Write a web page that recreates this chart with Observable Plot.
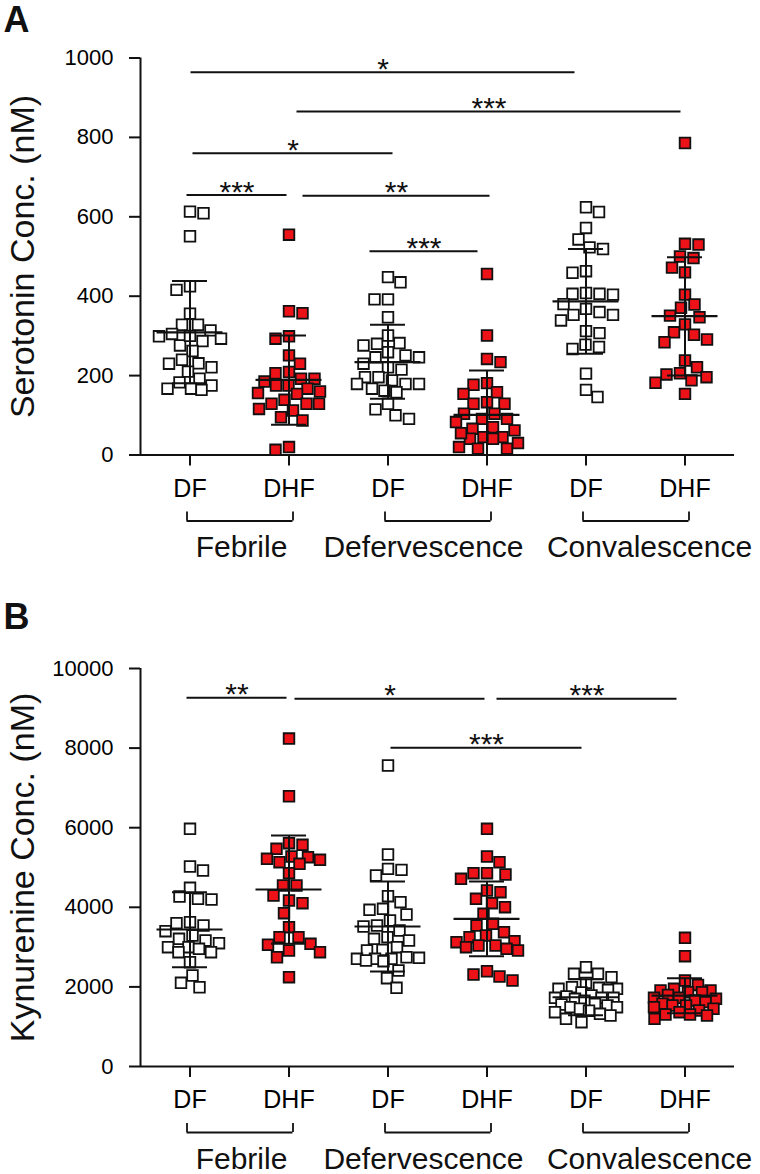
<!DOCTYPE html>
<html><head><meta charset="utf-8">
<script src="https://cdn.jsdelivr.net/npm/d3@7"></script>
<script src="https://cdn.jsdelivr.net/npm/@observablehq/plot@0.6"></script>
<style>
body{margin:0;background:#fff;}
#chart{width:760px;}
#chart svg{display:block;}
</style></head>
<body><div id="chart"></div>
<script>
// ---------- categories / labels ----------
const subLabels = ["DF","DHF","DF","DHF","DF","DHF"];
const groupLabels = ["Febrile","Defervescence","Convalescence"];
const serTicks = [0,200,400,600,800,1000];
const kynTicks = [0,2000,4000,6000,8000,10000];

// ---------- Panel A: serotonin (nM) ----------
const serFebDF  = [613,609,551,425,416,356,328,328,314,305,299,293,287,276,262,240,231,230,221,210,192,183,175,167,167,164,300];
const serFebDHF = [555,362,357,299,293,251,230,209,206,192,192,185,175,175,167,160,156,154,139,129,129,129,116,112,95,87,20,13];
const serDefDF  = [448,435,392,392,347,301,282,280,276,259,251,246,246,230,221,215,196,196,188,179,179,179,167,162,158,129,115,100,91];
const serDefDHF = [456,301,242,234,181,177,158,154,133,129,129,104,104,91,91,83,70,66,62,45,45,41,41,20,16,16,30,55];
const serConDF  = [624,612,572,543,523,519,463,459,408,406,406,404,380,368,360,353,353,339,312,307,278,272,267,205,164,146];
const serConDHF = [786,532,530,500,496,472,460,404,379,371,351,347,329,309,303,291,284,238,221,206,203,196,188,182,154];
const serMean = [309,189,234,101,387,350];
const serHi   = [438,301,328,213,519,498];
const serLo   = [181,76,142,0,255,200];
const serFrom  = [1,2,1,1,2,3];
const serTo    = [5,6,3,2,4,4];
const serStars = ["*","***","*","***","**","***"];
const serLevel = [964,865,760,655,653,513];

// ---------- Panel B: kynurenine (nM) ----------
const kynFebDF  = [5972,5025,4925,4490,4271,4213,4196,3626,3601,3543,3400,3291,3208,3166,3099,2998,2998,2957,2872,2872,2621,2286,2103,1992];
const kynFebDHF = [8240,6791,5611,5570,5469,5276,5259,5218,5193,5133,5093,4857,4548,4548,4296,4171,4104,3852,3500,3249,3249,3082,3058,2915,2872,2746,2244];
const kynDefDF  = [7563,5327,4966,4941,4799,4279,4128,3962,3937,3819,3668,3543,3518,3417,3249,3208,3166,2998,2931,2915,2746,2731,2706,2706,2706,2663,2646,2412,2219,1977];
const kynDefDHF = [5972,5276,5133,4857,4857,4824,4716,4422,4380,4213,4104,4003,3836,3585,3543,3375,3291,3249,3149,3123,3040,3040,2998,2957,2915,2394,2312,2261,2161];
const kynConDF  = [2495,2329,2329,2244,2100,1993,1977,1952,1952,1927,1860,1784,1759,1726,1726,1726,1700,1650,1575,1558,1533,1490,1490,1450,1400,1365,1324,1281,1198,1113];
const kynConDHF = [3233,2772,2161,2050,1952,1910,1910,1867,1867,1800,1726,1726,1700,1658,1617,1580,1533,1533,1490,1450,1407,1365,1307,1307,1281,1198];
const kynMean = [3442,4447,3518,3710,1740,1780];
const kynHi   = [4380,5804,4648,4650,2190,2220];
const kynLo   = [2495,3082,2387,2770,1290,1340];
const kynFrom  = [1,2,4,3];
const kynTo    = [2,4,6,5];
const kynStars = ["**","*","***","***"];
const kynLevel = [9264,9239,9239,8008];

// ---------- layout tweaks (pixels) ----------
const serLineDx = [[1,-11],[8,-4],[3,5],[-3,-2],[14,3],[-18,-9]];
const kynLineDx = [[-3,-2],[6,-2],[10,-8],[3,-4]];
const groupDx = [2,-14,14];

const FONT = "'Liberation Sans', Arial, Helvetica, sans-serif";
const RED = "#ec1218";
const INK = "#111";

function swarm(vals, pxPerUnit) {
  const D = 13.5, MAX = 31;
  const idx = vals.map((_, i) => i).sort((a, b) => vals[b] - vals[a]);
  const placed = [], off = new Array(vals.length);
  let side = 1;
  for (const i of idx) {
    const y = vals[i] * pxPerUnit;
    let chosen = null, alt = 0, altScore = -1;
    for (let k = 0; k <= MAX && chosen === null; k += 0.5) {
      const cands = k === 0 ? [0] : [side * k, -side * k];
      for (const x of cands) {
        let m = Infinity;
        for (const p of placed) m = Math.min(m, Math.hypot(p.x - x, p.y - y));
        if (m >= D) { chosen = x; break; }
        if (m > altScore) { altScore = m; alt = x; }
      }
    }
    if (chosen === null) chosen = alt;
    if (chosen !== 0) side = -Math.sign(chosen);
    placed.push({x: chosen, y});
    off[i] = chosen;
  }
  return off;
}

function panel(cfg) {
  const W = 760, H = 587, mL = 140, mR = 26;
  const pxX = (W - mL - mR) / 6;
  const plotH = H - cfg.mT - cfg.mB;
  const pxY = plotH / cfg.yMax;
  const uY = 1 / pxY;
  const pts = [];
  cfg.series.forEach((vals, k) => {
    const off = swarm(vals, pxY);
    vals.forEach((v, j) => pts.push({cat: k + 1, sub: subLabels[k], v, x: k + 1 + off[j] / pxX}));
  });
  const stats = cfg.mean.map((m, k) => ({cat: k + 1, m, hi: cfg.hi[k], lo: cfg.lo[k]}));
  const caps = stats.flatMap(s => [{cat: s.cat, y: s.hi}, {cat: s.cat, y: s.lo}]);
  const comps = cfg.from.map((a, k) => {
    const x1 = a + cfg.dx[k][0] / pxX, x2 = cfg.to[k] + cfg.dx[k][1] / pxX;
    return {x1, x2, xm: (x1 + x2) / 2, y: cfg.level[k], t: cfg.stars[k]};
  });
  const grp = groupLabels.map((g, k) => ({t: g, a: 2*k + 1 - 3/pxX, b: 2*k + 2 + 4/pxX, c: 2*k + 1.5 + groupDx[k]/pxX}));
  const ends = grp.flatMap(g => [g.a, g.b]);
  const meanHalf = 33 / pxX, capHalf = 17.5 / pxX;

  return Plot.plot({
    width: W, height: H,
    marginLeft: mL, marginRight: mR, marginTop: cfg.mT, marginBottom: cfg.mB,
    x: {domain: [0.5, 6.5]},
    y: {domain: [0, cfg.yMax]},
    style: {fontFamily: FONT, background: "white", color: "black", overflow: "visible"},
    marks: [
      Plot.ruleX([0.5], {y1: 0, y2: cfg.yMax, stroke: INK, strokeWidth: 2}),
      Plot.ruleY([0], {stroke: INK, strokeWidth: 2}),
      Plot.axisY({ticks: cfg.ticks, tickSize: 11, tickPadding: 16, fontSize: 22, tickFormat: d => String(d), label: null, stroke: INK, strokeWidth: 2}),
      Plot.axisX({ticks: [1,2,3,4,5,6], tickSize: 11, tickPadding: 13, fontSize: 25, tickFormat: d => subLabels[d - 1], label: null, stroke: INK, strokeWidth: 2}),
      Plot.dot(pts.filter(d => d.sub === "DF"), {x: "x", y: "v", symbol: "square", r: 6, fill: "white", stroke: INK, strokeWidth: 1.8}),
      Plot.dot(pts.filter(d => d.sub === "DHF"), {x: "x", y: "v", symbol: "square", r: 6, fill: RED, stroke: INK, strokeWidth: 1.8}),
      Plot.ruleX(stats, {x: "cat", y1: "lo", y2: "hi", stroke: INK, strokeWidth: 2}),
      Plot.ruleY(stats, {y: "m", x1: d => d.cat - meanHalf, x2: d => d.cat + meanHalf, stroke: INK, strokeWidth: 2.2}),
      Plot.ruleY(caps, {y: "y", x1: d => d.cat - capHalf, x2: d => d.cat + capHalf, stroke: INK, strokeWidth: 2}),
      Plot.ruleY(comps, {y: "y", x1: "x1", x2: "x2", stroke: INK, strokeWidth: 2}),
      Plot.text(comps, {x: "xm", y: "y", text: "t", dy: -3, fontSize: 30, lineAnchor: "middle", fill: INK}),
      Plot.ruleY(grp, {y: 0, x1: "a", x2: "b", dy: 66, stroke: INK, strokeWidth: 1.8}),
      Plot.ruleX(ends, {x: d => d, y1: 0, y2: 9 * uY, dy: 66, stroke: INK, strokeWidth: 1.8}),
      Plot.text(grp, {x: "c", y: 0, text: "t", dy: 102, fontSize: 30, lineAnchor: "bottom", fill: INK}),
      Plot.text([cfg.title], {frameAnchor: "left", rotate: -90, dx: -107, textAnchor: "middle", lineAnchor: "bottom", fontSize: 34, fill: INK}),
      Plot.text([cfg.letter], {frameAnchor: "top-left", dx: -137, dy: cfg.letterDy, textAnchor: "start", lineAnchor: "bottom", fontSize: 36, fontWeight: "bold", fill: INK})
    ]
  });
}

const chart = document.getElementById("chart");
chart.appendChild(panel({
  series: [serFebDF, serFebDHF, serDefDF, serDefDHF, serConDF, serConDHF],
  mean: serMean, hi: serHi, lo: serLo,
  from: serFrom, to: serTo, stars: serStars, level: serLevel, dx: serLineDx,
  yMax: 1000, ticks: serTicks, mT: 57.5, mB: 132.5,
  title: "Serotonin Conc. (nM)", letter: "A", letterDy: -26
}));
chart.appendChild(panel({
  series: [kynFebDF, kynFebDHF, kynDefDF, kynDefDHF, kynConDF, kynConDHF],
  mean: kynMean, hi: kynHi, lo: kynLo,
  from: kynFrom, to: kynTo, stars: kynStars, level: kynLevel, dx: kynLineDx,
  yMax: 10000, ticks: kynTicks, mT: 81, mB: 108,
  title: "Kynurenine Conc. (nM)", letter: "B", letterDy: -40
}));
</script>
</body></html>
